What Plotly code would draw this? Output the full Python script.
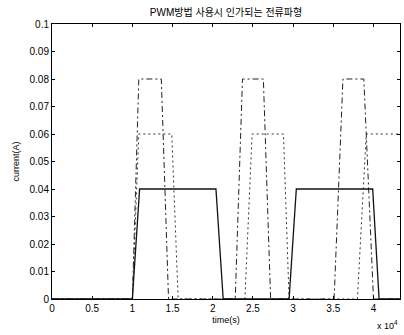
import plotly.graph_objects as go

# time in units of 1e4 s
t_solid = [0, 1.00, 1.09, 2.04, 2.13, 2.95, 3.04, 3.99, 4.07, 4.33]
i_solid = [0, 0, 0.04, 0.04, 0, 0, 0.04, 0.04, 0, 0]

t_dashdot = [0, 1.00, 1.08, 1.36, 1.45, 2.28, 2.37, 2.63, 2.72, 3.51, 3.62, 3.88, 4.00, 4.33]
i_dashdot = [0, 0, 0.08, 0.08, 0, 0, 0.08, 0.08, 0, 0, 0.08, 0.08, 0, 0]

t_dot = [0, 1.00, 1.08, 1.49, 1.57, 2.40, 2.49, 2.88, 2.95, 3.80, 3.91, 4.33]
i_dot = [0, 0, 0.06, 0.06, 0, 0, 0.06, 0.06, 0, 0, 0.06, 0.06]

x_ticks = [0, 0.5, 1, 1.5, 2, 2.5, 3, 3.5, 4]
x_ticktext = ["0", "0.5", "1", "1.5", "2", "2.5", "3", "3.5", "4"]
y_ticks = [0, 0.01, 0.02, 0.03, 0.04, 0.05, 0.06, 0.07, 0.08, 0.09, 0.1]
y_ticktext = ["0", "0.01", "0.02", "0.03", "0.04", "0.05", "0.06", "0.07", "0.08", "0.09", "0.1"]

FONT = "Liberation Sans, Arial, Noto Sans CJK KR, sans-serif"

fig = go.Figure()
fig.add_trace(go.Scatter(x=t_dot, y=i_dot, mode="lines",
                         line=dict(color="#333", width=1, dash="2px,3px")))
fig.add_trace(go.Scatter(x=t_dashdot, y=i_dashdot, mode="lines",
                         line=dict(color="#222", width=1, dash="6px,3px,2px,3px")))
fig.add_trace(go.Scatter(x=t_solid, y=i_solid, mode="lines",
                         line=dict(color="#111", width=1.3)))

fig.update_layout(
    width=404, height=335,
    margin=dict(l=52, r=4, t=24, b=36),
    paper_bgcolor="white", plot_bgcolor="white",
    showlegend=False,
    font=dict(family=FONT, size=10, color="black"),
    title=dict(text="PWM방법 사용시 인가되는 전류파형", x=0.5, xref="paper",
               y=1 - 12 / 335, yref="container", xanchor="center", yanchor="middle",
               font=dict(family="Liberation Sans, Noto Sans CJK KR, sans-serif", size=10)),
    xaxis=dict(range=[0, 4.33], tickvals=x_ticks, ticktext=x_ticktext,
               showgrid=False, zeroline=False, showline=True, linecolor="black",
               linewidth=1, mirror="allticks", ticks="inside", ticklen=3,
               tickcolor="black", tickfont=dict(size=10),
               title=dict(text="time(s)", standoff=3, font=dict(size=9))),
    yaxis=dict(range=[0, 0.1], tickvals=y_ticks, ticktext=y_ticktext,
               showgrid=False, zeroline=False, showline=True, linecolor="black",
               linewidth=1, mirror="allticks", ticks="inside", ticklen=3,
               tickcolor="black", tickfont=dict(size=10),
               title=dict(text="current(A)", standoff=8, font=dict(size=9))),
    annotations=[dict(text="x 10<sup>4</sup>", xref="paper", yref="paper",
                      x=1.0, y=-0.095, xanchor="right", yanchor="middle",
                      showarrow=False, font=dict(size=9))],
)

fig.write_html("out.html")
